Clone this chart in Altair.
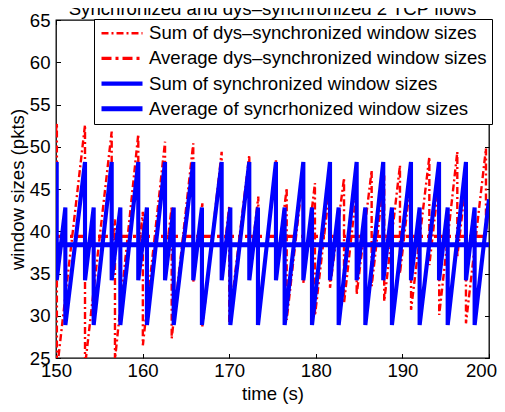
import altair as alt
import pandas as pd

# ---- data ----
blue_t = [150.0,
          150.08, 150.08, 151.08, 151.08,
          153.35, 153.35, 154.35, 154.35,
          156.43, 156.43, 157.43, 157.43,
          159.50, 159.50, 160.50, 160.50,
          162.59, 162.59, 163.59, 163.59,
          165.85, 165.85, 166.85, 166.85,
          169.13, 169.13, 170.13, 170.13,
          172.32, 172.32, 173.32, 173.32,
          175.40, 175.40, 176.40, 176.40,
          178.56, 178.56, 179.56, 179.56,
          181.64, 181.64, 182.64, 182.64,
          184.72, 184.72, 185.72, 185.72,
          187.79, 187.79, 188.79, 188.79,
          190.99, 190.99, 191.99, 191.99,
          194.23, 194.23, 195.23, 195.23,
          197.34, 197.34, 198.34, 198.34,
          200.0]
blue_v = [47.3,
          48.2, 34.2, 42.8, 28.9,
          48.2, 34.2, 42.8, 28.9,
          48.2, 34.2, 42.8, 28.9,
          48.2, 34.2, 42.8, 28.9,
          48.2, 34.2, 42.8, 28.9,
          48.2, 34.2, 42.8, 28.9,
          48.2, 34.2, 42.8, 28.9,
          48.2, 34.2, 42.8, 28.9,
          48.2, 34.2, 42.8, 28.9,
          48.2, 34.2, 42.8, 28.9,
          48.2, 34.2, 42.8, 28.9,
          48.2, 34.2, 42.8, 28.9,
          48.2, 34.2, 42.8, 28.9,
          48.2, 34.2, 42.8, 28.9,
          48.2, 34.2, 42.8, 28.9,
          48.2, 34.2, 42.8, 28.9,
          43.8]

red_t = [150.0,
         150.10, 150.10,
         153.35, 153.35,
         156.43, 156.43, 156.81, 156.81,
         159.50, 159.50, 160.03, 160.03,
         162.59, 162.59, 163.36, 163.36,
         165.85, 165.85, 166.90, 166.90,
         169.13, 169.13, 170.00, 170.00,
         172.32, 172.32, 173.36, 173.36,
         175.40, 175.40, 176.64, 176.64,
         178.56, 178.56, 179.90, 179.90,
         181.64, 181.64, 183.26, 183.26,
         184.72, 184.72, 186.45, 186.45,
         187.90, 187.90, 189.72, 189.72,
         191.00, 191.00, 193.11, 193.11,
         194.25, 194.25, 196.34, 196.34,
         197.34, 197.34, 199.65, 199.65,
         200.0]
red_v = [51.9,
         52.8, 23.5,
         52.6, 24.0,
         51.8, 38.0, 41.4, 24.8,
         51.5, 37.5, 42.3, 26.5,
         50.6, 36.0, 42.9, 27.3,
         50.4, 34.0, 43.3, 28.7,
         49.4, 35.0, 42.9, 29.1,
         49.0, 34.8, 44.1, 29.5,
         48.4, 34.5, 45.1, 29.5,
         47.0, 33.9, 45.7, 30.0,
         45.5, 33.3, 46.3, 31.5,
         45.0, 32.5, 47.2, 33.5,
         46.6, 31.7, 47.8, 35.0,
         46.5, 30.7, 48.8, 36.0,
         46.3, 30.1, 49.4, 37.0,
         46.0, 29.1, 49.8, 40.0,
         43.2]

avg_t = [150.0, 200.0]
red_avg = [39.4, 39.4]
blue_avg = [38.4, 38.4]

series_names = ["Sum of dys\u2013synchronized window sizes",
                "Average dys\u2013synchronized window sizes",
                "Sum of synchronized window sizes",
                "Average of syncrhonized window sizes"]
series_colors = ["#ff0000", "#ff0000", "#0000ff", "#0000ff"]
series_dash = [[7, 3, 2, 3], [10, 4, 3, 4], [1, 0], [1, 0]]
series_width = [2.4, 5, 3, 6]

x_ticks = [150, 160, 170, 180, 190, 200]
y_ticks = [25, 30, 35, 40, 45, 50, 55, 60, 65]

title_text = ["Synchronized and dys\u2013synchronized 2 TCP flows"]
FONT = "Liberation Sans, Arial, Helvetica"
FS = 18.6

# ---- table ----
rows = []
for name, ts, vs in [(series_names[0], red_t, red_v),
                     (series_names[1], avg_t, red_avg),
                     (series_names[2], blue_t, blue_v),
                     (series_names[3], avg_t, blue_avg)]:
    for i, (t, v) in enumerate(zip(ts, vs)):
        rows.append({"series": name, "t": t, "v": v, "i": i})
df = pd.DataFrame(rows)

leg = alt.Legend(title=None, orient="none", legendX=38, legendY=-1,
                 symbolType="stroke", symbolSize=1681, clipHeight=18.5,
                 labelFontSize=FS, labelFont=FONT, labelColor="black",
                 labelLimit=600, fillColor="white", strokeColor="black",
                 padding=5, rowPadding=6.2, labelOffset=4)

color = alt.Color("series:N", scale=alt.Scale(domain=series_names, range=series_colors), legend=leg)
dash = alt.StrokeDash("series:N", scale=alt.Scale(domain=series_names, range=series_dash), legend=leg)
width = alt.StrokeWidth("series:N", scale=alt.Scale(domain=series_names, range=series_width), legend=leg)

xscale = alt.Scale(domain=[150, 200], nice=False, zero=False)
yscale = alt.Scale(domain=[25, 65], nice=False, zero=False)

ax_bottom = alt.Axis(orient="bottom", values=x_ticks, offset=-4.5, tickSize=4.5,
                     tickColor="black", tickWidth=1, domain=False, grid=False,
                     labelFontSize=FS, labelFont=FONT, labelColor="black",
                     labelPadding=3, labelFlush=False, labelOverlap=False,
                     labelOffset={"condition": {"test": "datum.value == 200", "value": -8}, "value": 0},
                     title="time (s)", titleFontSize=FS, titleFont=FONT,
                     titleFontWeight="normal", titleColor="black", titlePadding=5)
ax_left = alt.Axis(orient="left", values=y_ticks, offset=-4.5, tickSize=4.5,
                   tickColor="black", tickWidth=1, domain=False, grid=False,
                   labelFontSize=FS, labelFont=FONT, labelColor="black",
                   labelPadding=6, labelFlush=False, labelOverlap=False,
                   title="window sizes (pkts)", titleFontSize=FS, titleFont=FONT,
                   titleFontWeight="normal", titleColor="black", titlePadding=2)
ax_top = alt.Axis(orient="top", values=x_ticks, offset=-4.5, tickSize=4.5,
                  tickColor="black", tickWidth=1, domain=False, grid=False,
                  labels=False, title=None)
ax_right = alt.Axis(orient="right", values=y_ticks, offset=-4.5, tickSize=4.5,
                    tickColor="black", tickWidth=1, domain=False, grid=False,
                    labels=False, title=None)


def layer(name, xaxis, yaxis):
    return alt.Chart(df).transform_filter(alt.datum.series == name).mark_line(
        clip=True, strokeCap="butt").encode(
        x=alt.X("t:Q", scale=xscale, axis=xaxis),
        y=alt.Y("v:Q", scale=yscale, axis=yaxis),
        order=alt.Order("i:Q"),
        color=color, strokeDash=dash, strokeWidth=width)


title_layer = alt.Chart(pd.DataFrame({"label": title_text})).mark_text(
    font=FONT, fontSize=FS, color="black", align="center", baseline="alphabetic"
).encode(text="label:N", x=alt.value(216.5), y=alt.value(-5))

chart = alt.layer(
    layer(series_names[0], ax_bottom, ax_left),
    layer(series_names[1], None, None),
    layer(series_names[2], ax_top, ax_right),
    layer(series_names[3], None, None),
    title_layer,
).resolve_axis(x="independent", y="independent").properties(
    width=433, height=338,
    padding={"left": 48, "top": 12, "right": 8, "bottom": 54},
    autosize="none",
).configure_view(stroke="black", strokeWidth=1.3)

chart.save("out.html", embed_options={"renderer": "svg", "actions": False})
